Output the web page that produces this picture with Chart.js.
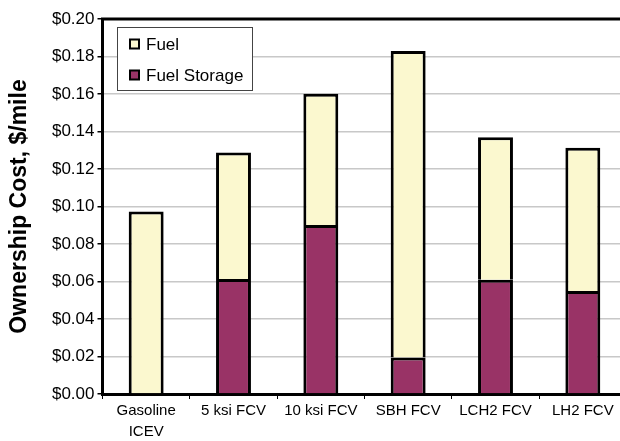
<!DOCTYPE html>
<html>
<head>
<meta charset="utf-8">
<script src="https://cdn.jsdelivr.net/npm/chart.js@4"></script>
<style>
  html, body { margin: 0; padding: 0; background: #fff; overflow: hidden; }
  #wrap { width: 650px; height: 441px; }
</style>
</head>
<body>
<div id="wrap"><canvas id="CostChart" width="650" height="441"></canvas></div>
<script>
// vehicle options along the x axis
let Vehicles = [["Gasoline", "ICEV"], "5 ksi FCV", "10 ksi FCV", "SBH FCV", "LCH2 FCV", "LH2 FCV"]
// $/mile
let StorageCost = [0, 0.0613, 0.0902, 0.0195, 0.0609, 0.0550]
let FuelCost = [0.0973, 0.0675, 0.0699, 0.1635, 0.0761, 0.0763]
let SeriesNames = ["Fuel", "Fuel Storage"]
let YTicks = [0, 0.02, 0.04, 0.06, 0.08, 0.10, 0.12, 0.14, 0.16, 0.18, 0.20]

const FuelColor = "#FBF8CF"
const StorageColor = "#993366"
const FontName = "'Liberation Sans', Arial, sans-serif"

// frame on top + right, and the legend box inside the plot
const framePlugin = {
  id: "frame",
  afterDraw(chart) {
    const ctx = chart.ctx
    const a = chart.chartArea
    ctx.save()
    ctx.strokeStyle = "#000"
    ctx.lineWidth = 3
    ctx.beginPath()
    ctx.moveTo(a.left - 1.5, a.top)
    ctx.lineTo(a.right, a.top)
    ctx.lineTo(a.right, a.bottom)
    ctx.stroke()

    // legend
    const bx = 117.5, by = 27.5, bw = 135, bh = 63
    ctx.fillStyle = "#fff"
    ctx.fillRect(bx, by, bw, bh)
    ctx.lineWidth = 1
    ctx.strokeStyle = "#444"
    ctx.strokeRect(bx, by, bw, bh)
    const items = [
      { label: SeriesNames[0], color: FuelColor, y: 44 },
      { label: SeriesNames[1], color: StorageColor, y: 75 }
    ]
    ctx.font = "17px " + FontName
    ctx.textBaseline = "middle"
    items.forEach(it => {
      ctx.fillStyle = it.color
      ctx.fillRect(130, it.y - 4.5, 9, 9)
      ctx.lineWidth = 2
      ctx.strokeStyle = "#000"
      ctx.strokeRect(130, it.y - 4.5, 9, 9)
      ctx.fillStyle = "#000"
      ctx.fillText(it.label, 146, it.y + 1)
    })
    ctx.restore()
  }
}

const ctx = document.getElementById("CostChart").getContext("2d")

const config = {
  type: "bar",
  data: {
    labels: Vehicles,
    datasets: [
      {
        label: SeriesNames[1],
        data: StorageCost,
        backgroundColor: StorageColor,
        borderColor: "#000",
        borderWidth: { top: 3, left: 3, right: 3, bottom: 0 },
        borderSkipped: false
      },
      {
        label: SeriesNames[0],
        data: FuelCost,
        backgroundColor: FuelColor,
        borderColor: "#000",
        borderWidth: { top: 3, left: 3, right: 3, bottom: 0 },
        borderSkipped: false
      }
    ]
  },
  options: {
    responsive: false,
    animation: false,
    devicePixelRatio: 1,
    layout: { padding: { top: 19, right: 23.5, left: 0, bottom: 0 } },
    datasets: { bar: { barPercentage: 0.4, categoryPercentage: 1 } },
    plugins: { legend: { display: false }, tooltip: { enabled: false } },
    scales: {
      x: {
        stacked: true,
        afterFit: s => { s.height = 47 },
        grid: { offset: true, drawOnChartArea: false, tickLength: 5, tickColor: "#000", lineWidth: 1 },
        border: { color: "#000", width: 3 },
        ticks: {
          color: "#000",
          padding: 2,
          maxRotation: 0,
          autoSkip: false,
          font: { family: FontName, size: 15, lineHeight: 1.35 }
        }
      },
      y: {
        stacked: true,
        min: 0,
        max: 0.2,
        afterFit: s => { s.width = 102.5 },
        afterBuildTicks: s => { s.ticks = YTicks.map(v => ({ value: v })) },
        grid: { color: "#c8c8c8", lineWidth: 1.5, tickLength: 5, tickColor: "#000" },
        border: { color: "#000", width: 3 },
        ticks: {
          color: "#000",
          padding: 3,
          font: { family: FontName, size: 17 },
          callback: v => "$" + Number(v).toFixed(2)
        },
        title: {
          display: true,
          text: "Ownership Cost, $/mile",
          color: "#000",
          font: { family: FontName, size: 23, weight: "bold", lineHeight: 1.2 },
          padding: { top: 6, bottom: 0 }
        }
      }
    }
  },
  plugins: [framePlugin]
}

const myChart = new Chart(ctx, config)
</script>
</body>
</html>
